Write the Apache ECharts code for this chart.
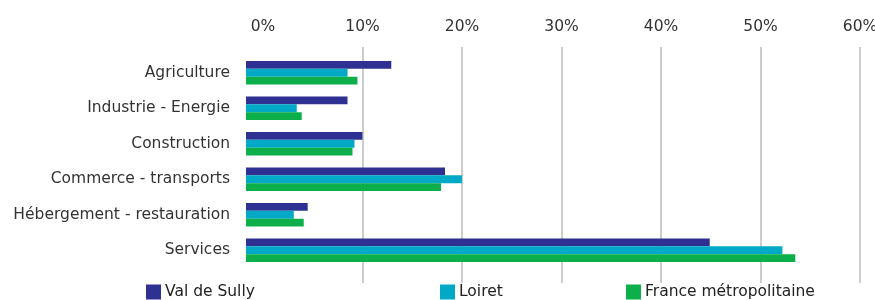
<!DOCTYPE html>
<html style="height: 100%">
<head>
  <meta charset="UTF-8">
  <title>Emplois par secteur</title>
  <script src="https://cdn.jsdelivr.net/npm/echarts@6/dist/echarts.min.js"></script>
  <style>
    html, body {
      margin: 0;
      height: 100%;
      width: 100%;
      background: #fff;
    }
    #chart {
      width: 875px;
      height: 300px;
    }
  </style>
</head>
<body>
  <div id="chart"></div>
  <script>
    // data (share in %, read against the bar start)
    const sectors = ['Agriculture', 'Industrie - Energie', 'Construction', 'Commerce - transports', 'Hébergement - restauration', 'Services'];
    const valDeSully = [14.6, 10.2, 11.7, 20.0, 6.2, 46.6];
    const loiret = [10.2, 5.1, 10.9, 21.7, 4.8, 53.9];
    const france = [11.2, 5.6, 10.7, 19.6, 5.8, 55.2];
    const tickMax = 60;
    const tickStep = 10;

    const font = '"DejaVu Sans", sans-serif';
    const fontSize = 15.5;
    const colors = ['#2e3192', '#00a9c6', '#0daf4b'];

    const chart = echarts.init(document.getElementById('chart'));

    function legendAt(left, name) {
      return {
        left: left,
        top: 284,
        padding: 0,
        icon: 'rect',
        itemWidth: 15,
        itemHeight: 15,
        itemGap: 0,
        data: [name],
        textStyle: { fontFamily: font, fontSize: fontSize, color: '#222', padding: [0, 0, 0, -1] }
      };
    }

    chart.setOption({
      color: colors,
      animation: false,
      legend: [
        legendAt(146, 'Val de Sully'),
        legendAt(440, 'Loiret'),
        legendAt(626, 'France métropolitaine')
      ],
      grid: [
        // grid for the percentage axis and gridlines
        { left: 263, right: 15, top: 47, bottom: 17, outerBoundsMode: 'none' },
        // grid for the bars
        { left: 246, right: 15, top: 55, bottom: 32, outerBoundsMode: 'none' }
      ],
      xAxis: [
        {
          gridIndex: 0,
          type: 'value',
          position: 'top',
          min: 0,
          max: tickMax,
          interval: tickStep,
          axisLine: { show: false },
          axisTick: { show: false },
          axisLabel: {
            formatter: '{value}%',
            margin: 12,
            fontFamily: font,
            fontSize: fontSize,
            color: '#333'
          },
          splitLine: {
            show: true,
            showMinLine: false,
            lineStyle: { color: '#bdbdbd', width: 1.5 }
          }
        },
        {
          gridIndex: 1,
          type: 'value',
          min: 0,
          max: tickMax + 1.7,
          show: false
        }
      ],
      yAxis: [
        { gridIndex: 0, type: 'category', data: sectors, show: false },
        {
          gridIndex: 1,
          type: 'category',
          data: sectors,
          inverse: true,
          axisLine: { show: false },
          axisTick: { show: false },
          axisLabel: {
            margin: 16,
            fontFamily: font,
            fontSize: fontSize,
            color: '#333'
          }
        }
      ],
      series: [
        { name: 'Val de Sully', data: valDeSully },
        { name: 'Loiret', data: loiret },
        { name: 'France métropolitaine', data: france }
      ].map(s => ({
        name: s.name,
        type: 'bar',
        xAxisIndex: 1,
        yAxisIndex: 1,
        data: s.data,
        barGap: '0%',
        barCategoryGap: '34%'
      }))
    });
  </script>
</body>
</html>
